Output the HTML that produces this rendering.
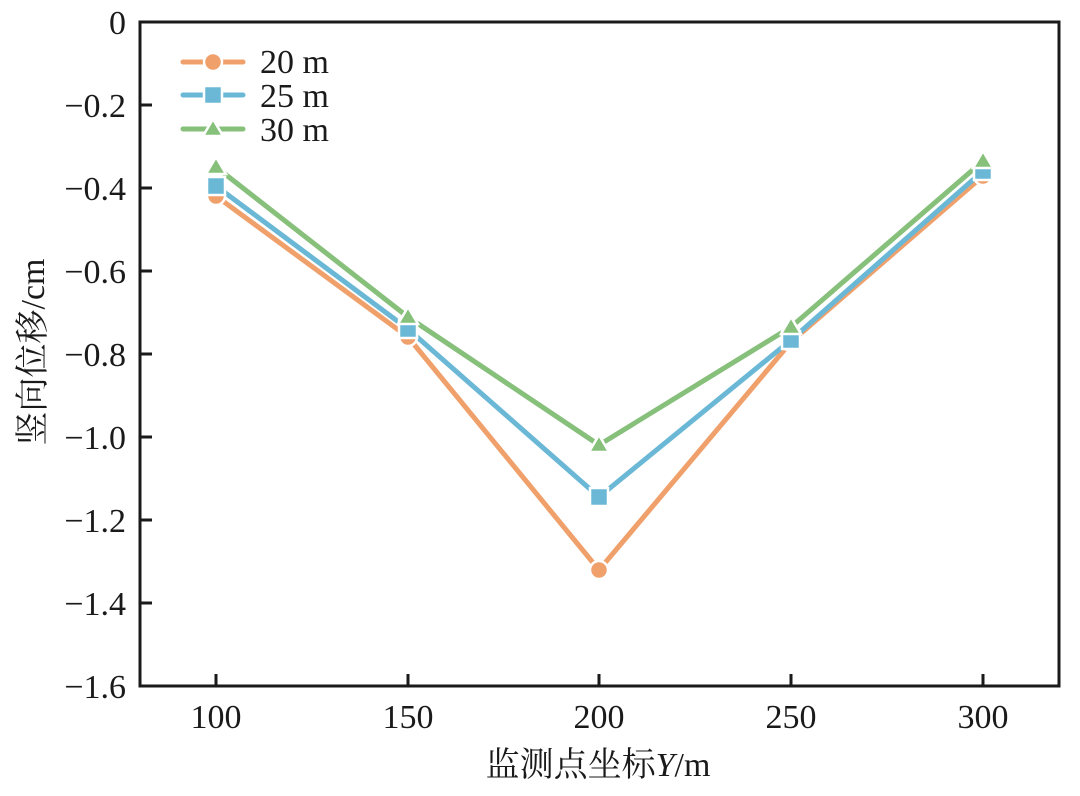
<!DOCTYPE html>
<html><head><meta charset="utf-8"><style>body{margin:0;background:#fff}</style></head><body>
<svg width="1080" height="791" xmlns="http://www.w3.org/2000/svg" font-family="Liberation Serif, Noto Serif CJK SC, serif">
<rect width="1080" height="791" fill="#fff"/>
<g stroke="#1a1a1a" stroke-width="3">
<rect x="140" y="22" width="919" height="664" fill="none"/>
<line x1="216" y1="686" x2="216" y2="674"/><line x1="408" y1="686" x2="408" y2="674"/><line x1="599" y1="686" x2="599" y2="674"/><line x1="791" y1="686" x2="791" y2="674"/><line x1="983" y1="686" x2="983" y2="674"/>
<line x1="140" y1="105" x2="152" y2="105"/><line x1="140" y1="188" x2="152" y2="188"/><line x1="140" y1="271" x2="152" y2="271"/><line x1="140" y1="354" x2="152" y2="354"/><line x1="140" y1="437" x2="152" y2="437"/><line x1="140" y1="520" x2="152" y2="520"/><line x1="140" y1="603" x2="152" y2="603"/>
</g>
<g font-size="34" fill="#1a1a1a" text-anchor="end">
<text x="126" y="34">0</text><text x="126" y="117">−0.2</text><text x="126" y="200">−0.4</text><text x="126" y="283">−0.6</text><text x="126" y="366">−0.8</text><text x="126" y="449">−1.0</text><text x="126" y="532">−1.2</text><text x="126" y="615">−1.4</text><text x="126" y="698">−1.6</text>
</g>
<g font-size="34" fill="#1a1a1a" text-anchor="middle">
<text x="216" y="728">100</text><text x="408" y="728">150</text><text x="599" y="728">200</text><text x="791" y="728">250</text><text x="983" y="728">300</text>
<text x="598" y="776">监测点坐标<tspan font-style="italic">Y</tspan>/m</text>
<text transform="translate(44,352) rotate(-90)">竖向位移/cm</text>
</g>
<g fill="none" stroke-width="5" stroke-linejoin="round">
<polyline stroke="#f0a06a" points="216,196 408,337 599,570 791,342 983,176"/>
<polyline stroke="#6bb8d6" points="216,186 408,329 599,497 791,340 983,171"/>
<polyline stroke="#86c07a" points="216,167 408,317 599,445 791,327 983,161"/>
</g>
<g stroke="#fff" stroke-width="2.5">
<g fill="#f0a06a"><circle cx="216" cy="196" r="9"/><circle cx="408" cy="337" r="9"/><circle cx="599" cy="570" r="9"/><circle cx="791" cy="342" r="9"/><circle cx="983" cy="176" r="9"/></g>
<g fill="#6bb8d6"><rect x="207" y="177" width="18" height="18"/><rect x="399" y="320" width="18" height="18"/><rect x="590" y="488" width="18" height="18"/><rect x="782" y="331" width="18" height="18"/><rect x="974" y="162" width="18" height="18"/></g>
<g fill="#86c07a"><polygon points="216,157 226,174 206,174"/><polygon points="408,307 418,324 398,324"/><polygon points="599,435 609,452 589,452"/><polygon points="791,317 801,334 781,334"/><polygon points="983,151 993,168 973,168"/></g>
</g>
<g stroke-width="5" stroke-linecap="round">
<line x1="183" y1="62" x2="243" y2="62" stroke="#f0a06a"/>
<line x1="183" y1="95" x2="243" y2="95" stroke="#6bb8d6"/>
<line x1="183" y1="129" x2="243" y2="129" stroke="#86c07a"/>
</g>
<g stroke="#fff" stroke-width="2.5">
<circle cx="213" cy="62" r="9" fill="#f0a06a"/>
<rect x="204" y="86" width="18" height="18" fill="#6bb8d6"/>
<polygon points="213,119 223,136 203,136" fill="#86c07a"/>
</g>
<g font-size="34" fill="#1a1a1a">
<text x="260" y="73">20 m</text><text x="260" y="107">25 m</text><text x="260" y="141">30 m</text>
</g>
</svg>
</body></html>
